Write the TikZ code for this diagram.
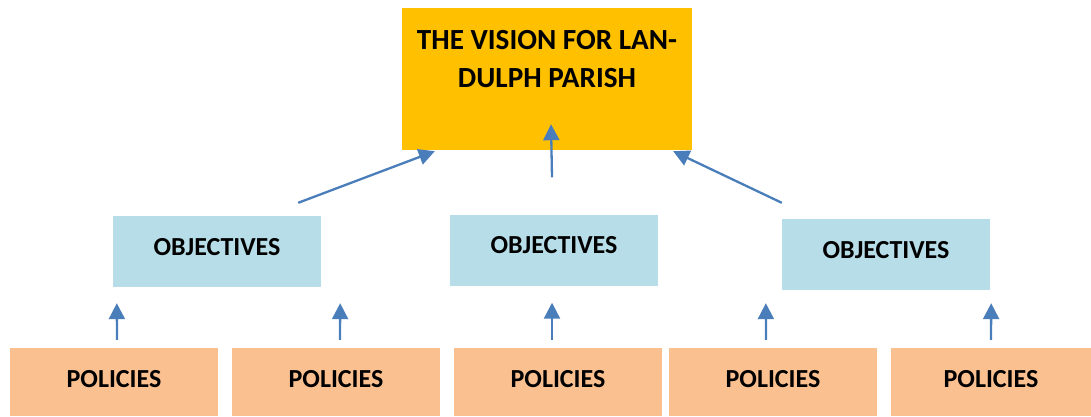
\documentclass[tikz,border=0pt]{standalone}
\usepackage{fontspec}
\setmainfont{Carlito}
\usetikzlibrary{arrows.meta,calc}
\definecolor{gold}{HTML}{FFC000}
\definecolor{objblue}{HTML}{B7DEE8}
\definecolor{polor}{HTML}{FAC090}
\definecolor{arrblue}{HTML}{4A7EBB}
\tikzset{
  visionbox/.style={fill=gold,draw=none,minimum width=290pt,minimum height=142pt,inner sep=0pt},
  objbox/.style={fill=objblue,draw=none,minimum width=208pt,minimum height=71pt,inner sep=0pt,font=\fontsize{26}{30}\selectfont\bfseries},
  polbox/.style={fill=polor,draw=none,minimum width=208pt,minimum height=68pt,inner sep=0pt,font=\fontsize{26}{30}\selectfont\bfseries},
  arr/.style={draw=arrblue,line width=2.3pt,-{Triangle[width=16pt,length=16pt]},arrblue},
  vtext/.style={font=\fontsize{29.2}{38.5}\selectfont\bfseries,align=center,inner sep=0pt}
}
\begin{document}
\begin{tikzpicture}[x=1pt,y=1pt]
\useasboundingbox (0,0) rectangle (1091,-416);
\node[visionbox] (vision) at (547,-79) {};
\node[vtext,anchor=north] (vt) at (547,-30) {THE VISION FOR LAN-\\DULPH PARISH};
\node[objbox] (objL) at (217,-251.5) {\raisebox{10pt}{OBJECTIVES}};
\node[objbox] (objM) at (554,-250) {\raisebox{10pt}{OBJECTIVES}};
\node[objbox] (objR) at (886,-254.5) {\raisebox{10pt}{OBJECTIVES}};
\node[polbox] (p1) at (114,-382) {\raisebox{6pt}{POLICIES}};
\node[polbox] (p2) at (336,-382) {\raisebox{6pt}{POLICIES}};
\node[polbox] (p3) at (558,-382) {\raisebox{6pt}{POLICIES}};
\node[polbox] (p4) at (773,-382) {\raisebox{6pt}{POLICIES}};
\node[polbox,minimum width=200pt] (p5) at (991,-382) {\raisebox{6pt}{POLICIES}};
% upper arrows
\draw[arr] ($(objL.north east)+(-23,13)$) -- ($(vision.south west)+(33,-1)$);
\draw[arr] ($(objM.north)+(-2,37)$) -- ($(vision.south)+(4,26)$);
\draw[arr] ($(objR.north west)+(0,16)$) -- ($(vision.south east)+(-19,-1)$);
% lower arrows
\draw[arr] ($(p1.north)+(3,8)$) -- ($(objL.south west)+(4,-16)$);
\draw[arr] ($(p2.north)+(4,8)$) -- ($(objL.south east)+(19,-16)$);
\draw[arr] ($(p3.north)+(-6,8)$) -- ($(objM.south)+(-2,-17)$);
\draw[arr] ($(p4.north)+(-7,8)$) -- ($(objR.south west)+(-16,-13)$);
\draw[arr] ($(p5.north)+(0,8)$) -- ($(objR.south east)+(1,-13)$);
\end{tikzpicture}
\end{document}
